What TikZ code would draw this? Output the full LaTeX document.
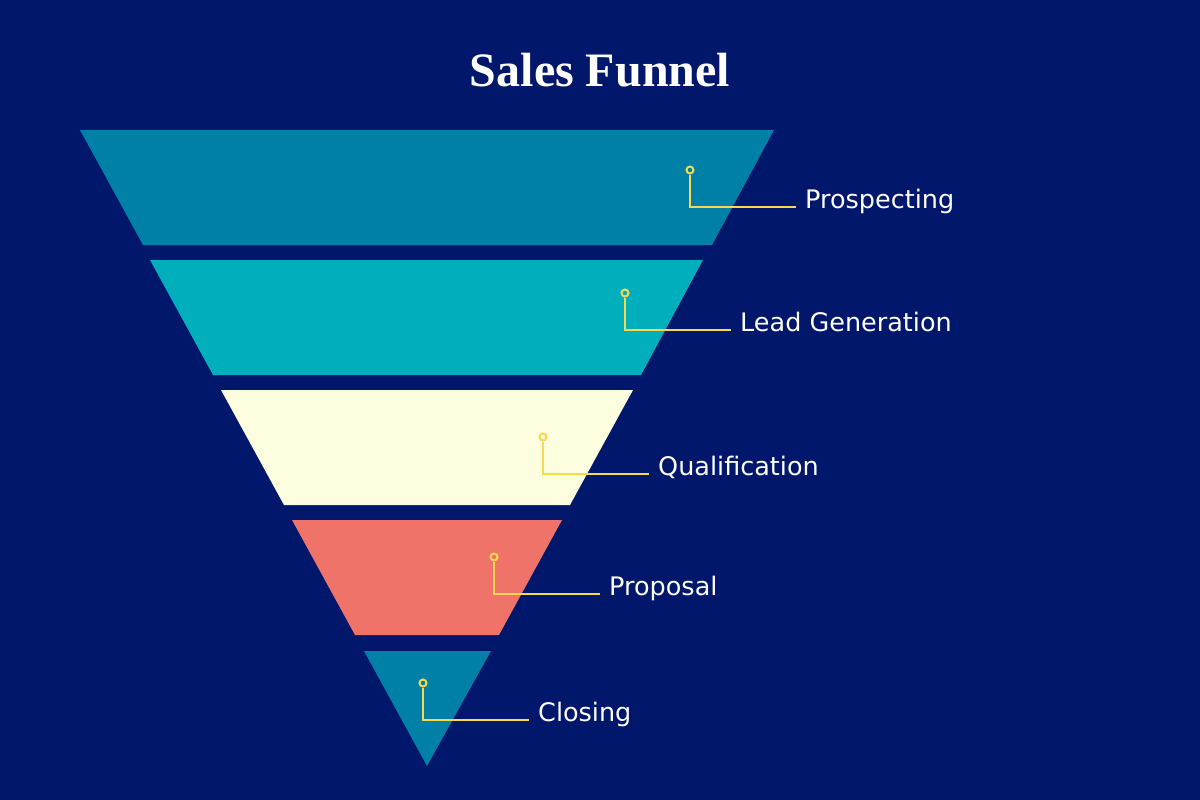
\documentclass[tikz,border=0pt]{standalone}
\usepackage{fontspec}
\setmainfont{DejaVu Sans}
\newfontfamily\cimfont{Liberation Serif}
\usetikzlibrary{positioning}
\definecolor{hatter}{HTML}{00176B}
\definecolor{kekzold}{HTML}{0080A6}
\definecolor{turkiz}{HTML}{00AFBB}
\definecolor{krem}{HTML}{FDFDE0}
\definecolor{lazac}{HTML}{F0736A}
\definecolor{sarga}{HTML}{F8D84E}
\tikzset{
  szelet/.style={draw=none},
  jelzo/.style={circle,draw=sarga,line width=2pt,inner sep=0pt,minimum size=7pt},
  vezeto/.style={draw=sarga,line width=2.5pt},
  felirat/.style={anchor=base west,inner sep=0pt,text=white,font=\fontsize{25.5}{30}\selectfont},
}
\begin{document}
\begin{tikzpicture}[x=1pt,y=-1pt]
  \useasboundingbox (0,0) rectangle (1200,800);
  \fill[hatter] (0,0) rectangle (1200,800);
  \node[text=white,font=\cimfont\bfseries\fontsize{48}{54}\selectfont] (cim) at (600,70) {Sales Funnel};
  % a tolcser szeletei
  \fill[szelet,kekzold] (80,130) -- (774,130) -- (712,245) -- (143,245) -- cycle;
  \fill[szelet,turkiz] (150,260) -- (703,260) -- (641,375) -- (213,375) -- cycle;
  \fill[szelet,krem] (221,390) -- (633,390) -- (570,505) -- (284,505) -- cycle;
  \fill[szelet,lazac] (292,520) -- (562,520) -- (499,635) -- (355,635) -- cycle;
  \fill[szelet,kekzold] (364,651) -- (491,651) -- (427,766) -- cycle;
  % jelzok es feliratok
  \foreach \i/\px/\py/\txt in {1/690/170/Prospecting, 2/625/293/Lead Generation,
      3/543/437/Qualification, 4/494/557/Proposal, 5/423/683/Closing}{
    \node[jelzo] (pont\i) at (\px,\py) {};
    \node[felirat] (fel\i) at (\px+115,\py+38) {\txt};
    \coordinate (veg\i) at (\px+106,\py+37);
    \draw[vezeto] (pont\i.south) |- (veg\i);
  }
\end{tikzpicture}
\end{document}
